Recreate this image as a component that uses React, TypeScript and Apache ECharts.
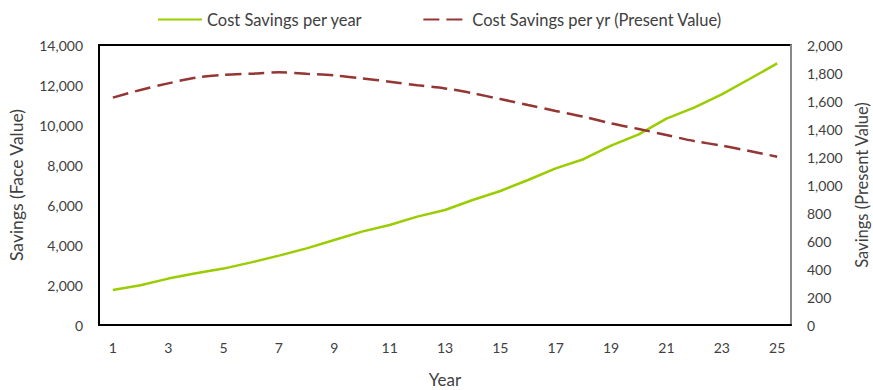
import React, { useEffect, useRef } from "react";
import * as echarts from "echarts";

const years = Array.from({ length: 25 }, (_, i) => String(i + 1));

const faceValue = [
  1750, 1990, 2320, 2590, 2820, 3130, 3470, 3830, 4250, 4670, 5000, 5420, 5750,
  6250, 6700, 7250, 7830, 8290, 8970, 9530, 10320, 10870, 11530, 12300, 13080,
];

const presentValue = [
  1624, 1679, 1726, 1767, 1786, 1795, 1805, 1795, 1783, 1762, 1738, 1712, 1690,
  1655, 1614, 1571, 1529, 1488, 1440, 1400, 1357, 1314, 1281, 1243, 1202,
];

const seriesNames = ["Cost Savings per year", "Cost Savings per yr (Present Value)"];

const FONT = "Lato, 'Noto Sans', sans-serif";
const TEXT = "#404040";

export default function App() {
  const ref = useRef<HTMLDivElement>(null);

  useEffect(() => {
    if (!ref.current) return;
    const chart = echarts.init(ref.current, undefined, { renderer: "svg" });
    const fmt = (v: number) => v.toLocaleString("en-US");
    chart.setOption({
      animation: false,
      textStyle: { fontFamily: FONT, color: TEXT },
      legend: {
        top: 6,
        left: 152,
        itemWidth: 44,
        itemHeight: 10,
        itemGap: 60,
        itemStyle: { opacity: 0 },
        textStyle: { fontFamily: FONT, fontSize: 16.5, color: TEXT },
        data: seriesNames,
      },
      grid: {
        left: 99,
        right: 82,
        top: 45,
        bottom: 65,
        show: true,
        borderColor: "#000",
        borderWidth: 2,
        containLabel: false,
        outerBoundsMode: "none",
      },
      xAxis: {
        type: "category",
        data: years,
        boundaryGap: true,
        name: "Year",
        nameLocation: "middle",
        nameGap: 46,
        nameTextStyle: { fontFamily: FONT, fontSize: 17, color: TEXT },
        axisLine: { lineStyle: { color: "#000", width: 2 } },
        axisTick: { show: false },
        axisLabel: {
          interval: 1,
          margin: 15,
          fontFamily: FONT,
          fontSize: 14,
          color: TEXT,
        },
      },
      yAxis: [
        {
          type: "value",
          min: 0,
          max: 14000,
          interval: 2000,
          name: "Savings (Face Value)",
          nameLocation: "middle",
          nameGap: 74,
          nameTextStyle: { fontFamily: FONT, fontSize: 17.5, color: TEXT },
          axisLine: { show: true, lineStyle: { color: "#000", width: 2 } },
          axisTick: { show: false },
          splitLine: { show: false },
          axisLabel: {
            margin: 16,
            fontFamily: FONT,
            fontSize: 14,
            color: TEXT,
            formatter: fmt,
          },
        },
        {
          type: "value",
          min: 0,
          max: 2000,
          interval: 200,
          position: "right",
          name: "Savings (Present Value)",
          nameLocation: "middle",
          nameGap: 61,
          nameRotate: 90,
          nameTextStyle: { fontFamily: FONT, fontSize: 16.5, color: TEXT },
          axisLine: { show: true, lineStyle: { color: "#888", width: 2 } },
          axisTick: { show: false },
          splitLine: { show: false },
          axisLabel: {
            margin: 16,
            fontFamily: FONT,
            fontSize: 14,
            color: TEXT,
            formatter: fmt,
          },
        },
      ],
      series: [
        {
          name: seriesNames[0],
          type: "line",
          yAxisIndex: 0,
          data: faceValue,
          showSymbol: false,
          symbol: "none",
          lineStyle: { color: "#9ACD00", width: 2.5 },
          itemStyle: { color: "#9ACD00" },
        },
        {
          name: seriesNames[1],
          type: "line",
          yAxisIndex: 1,
          data: presentValue,
          showSymbol: false,
          symbol: "none",
          smooth: 0.3,
          lineStyle: { color: "#943634", width: 2.5, type: [16, 7] },
          itemStyle: { color: "#943634" },
        },
      ],
    });
    return () => chart.dispose();
  }, []);

  return (
    <div
      ref={ref}
      style={{ position: "absolute", left: 0, top: 0, width: 873, height: 390 }}
    />
  );
}
